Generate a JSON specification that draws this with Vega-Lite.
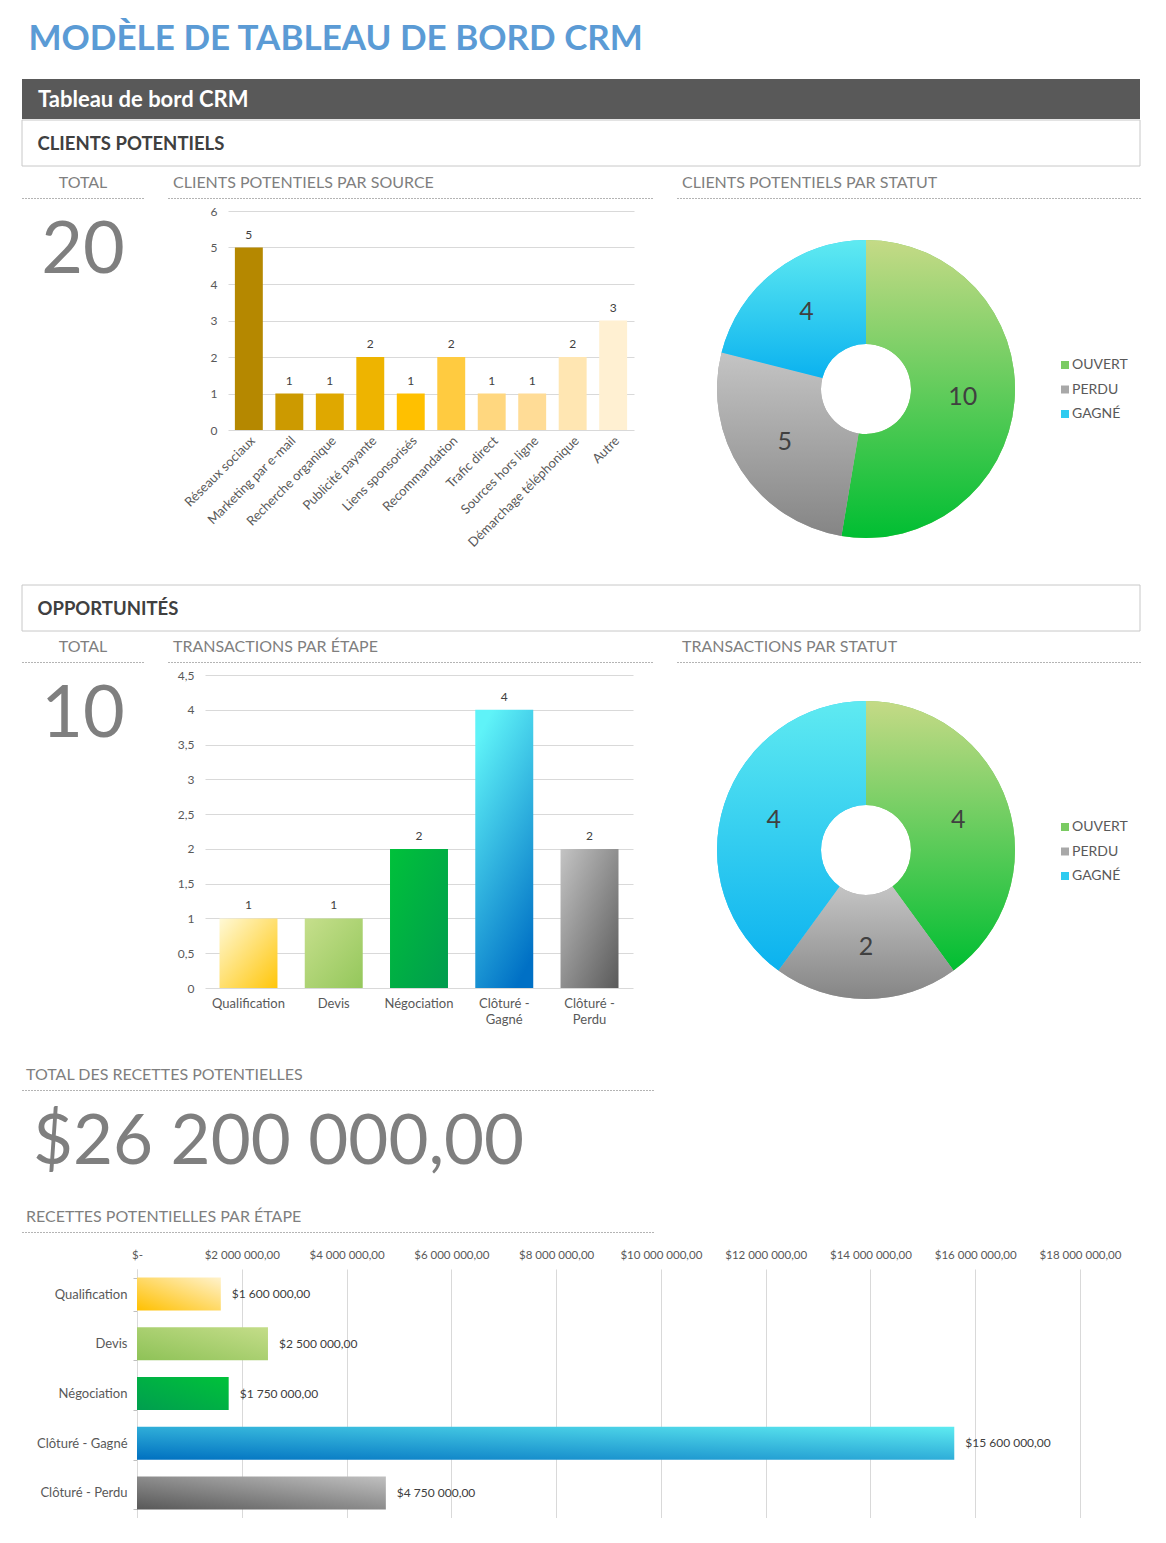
{
  "$schema": "https://vega.github.io/schema/vega-lite/v6.json",
  "background": "white",
  "padding": {"left": 21, "top": 22, "right": 0, "bottom": 0},
  "title": {"text": "MODÈLE DE TABLEAU DE BORD CRM", "anchor": "start", "dx": 7, "offset": 22, "fontSize": 35, "fontWeight": "bold", "color": "#5B9BD5", "font": "Lato"},
  "config": {
    "font": "Lato",
    "view": {"stroke": null},
    "locale": {"number": {"decimal": ",", "thousands": " ", "grouping": [3], "currency": ["$", ""]}},
    "axis": {"labelFont": "Lato", "labelColor": "#595959", "gridColor": "#d9d9d9", "domain": false, "ticks": false},
    "legend": {"labelFont": "Lato"},
    "text": {"font": "Lato"},
    "title": {"font": "Lato"}
  },
  "spacing": 0,
  "resolve": {"scale": {"color": "independent", "theta": "independent"}},
  "vconcat": [
    {
      "width": 1118, "height": 40,
      "data": {"values": [{"titre": "Tableau de bord CRM"}]},
      "mark": {"type": "rect", "fill": "#595959"},
      "encoding": {},
      "title": {"text": "Tableau de bord CRM", "anchor": "start", "dx": 16, "offset": -33, "fontSize": 22, "fontWeight": "bold", "color": "#ffffff"}
    },
    {
      "spacing": 7,
      "resolve": {"scale": {"color": "independent", "theta": "independent"}},
      "vconcat": [
        {
          "width": 1118, "height": 46,
          "data": {"values": [{"section": "CLIENTS POTENTIELS"}]},
          "mark": {"type": "rect", "fill": "#ffffff", "stroke": "#c8c8c8", "strokeWidth": 1},
          "encoding": {},
          "title": {"text": "CLIENTS POTENTIELS", "anchor": "start", "dx": 16, "offset": -34, "fontSize": 18.5, "fontWeight": "bold", "color": "#404040"}
        },
        {
          "spacing": 22,
          "resolve": {"scale": {"color": "independent", "theta": "independent"}},
          "hconcat": [
            {
              "spacing": 0,
              "vconcat": [
                {
                  "width": 122, "height": 0.01,
                  "view": {"stroke": "#9a9a9a", "strokeDash": [1, 2]},
                  "data": {"values": []},
                  "mark": "text",
                  "title": {"text": "TOTAL", "anchor": "middle", "offset": 7, "fontSize": 16, "fontWeight": "normal", "color": "#7f7f7f"}
                },
                {
                  "width": 122, "height": 104,
                  "data": {"values": [{"total_clients": 20}]},
                  "mark": {"type": "text", "fontSize": 72, "color": "#7f7f7f"},
                  "encoding": {"text": {"field": "total_clients", "type": "quantitative"}}
                }
              ]
            },
            {
              "spacing": 6,
              "vconcat": [
                {
                  "width": 485, "height": 0.01,
                  "view": {"stroke": "#9a9a9a", "strokeDash": [1, 2]},
                  "data": {"values": []},
                  "mark": "text",
                  "title": {"text": "CLIENTS POTENTIELS PAR SOURCE", "anchor": "start", "dx": 5, "offset": 7, "fontSize": 16, "fontWeight": "normal", "color": "#7f7f7f"}
                },
                {
                  "spacing": 0,
                  "hconcat": [
                    {"width": 0.01, "height": 0.01, "data": {"values": []}, "mark": "text"},
                    {
                      "width": 406, "height": 219,
                      "data": {"values": [
                        {"source": "Réseaux sociaux", "clients": 5},
                        {"source": "Marketing par e-mail", "clients": 1},
                        {"source": "Recherche organique", "clients": 1},
                        {"source": "Publicité payante", "clients": 2},
                        {"source": "Liens sponsorisés", "clients": 1},
                        {"source": "Recommandation", "clients": 2},
                        {"source": "Trafic direct", "clients": 1},
                        {"source": "Sources hors ligne", "clients": 1},
                        {"source": "Démarchage téléphonique", "clients": 2},
                        {"source": "Autre", "clients": 3}
                      ]},
                      "encoding": {
                        "x": {"field": "source", "type": "nominal", "sort": null, "scale": {"paddingInner": 0.31, "paddingOuter": 0.17},
                          "axis": {"title": null, "labelAngle": -45, "labelFontSize": 13, "labelPadding": 4, "minExtent": 154}},
                        "y": {"field": "clients", "type": "quantitative", "scale": {"domain": [0, 6], "nice": false},
                          "axis": {"title": null, "values": [0, 1, 2, 3, 4, 5, 6], "grid": true, "labelFontSize": 12, "labelPadding": 11, "minExtent": 59}}
                      },
                      "layer": [
                        {"mark": {"type": "bar"},
                         "encoding": {"color": {"field": "source", "type": "nominal", "sort": null, "legend": null,
                           "scale": {"range": ["#B58800", "#CC9A00", "#DFA800", "#EEB400", "#FFC000", "#FFCB40", "#FFD77F", "#FFDC96", "#FFE6B2", "#FFF0D2"]}}}},
                        {"mark": {"type": "text", "dy": -13, "fontSize": 12, "color": "#404040"},
                         "encoding": {"text": {"field": "clients", "type": "quantitative"}}}
                      ]
                    }
                  ]
                }
              ]
            },
            {
              "spacing": 0,
              "vconcat": [
                {
                  "width": 464, "height": 0.01,
                  "view": {"stroke": "#9a9a9a", "strokeDash": [1, 2]},
                  "data": {"values": []},
                  "mark": "text",
                  "title": {"text": "CLIENTS POTENTIELS PAR STATUT", "anchor": "start", "dx": 5, "offset": 7, "fontSize": 16, "fontWeight": "normal", "color": "#7f7f7f"}
                },
                {
                  "width": 378, "height": 380,
                  "data": {"values": [
                    {"statut": "OUVERT", "clients": 10, "rang": 1},
                    {"statut": "PERDU", "clients": 5, "rang": 2},
                    {"statut": "GAGNÉ", "clients": 4, "rang": 3}
                  ]},
                  "transform": [{"stack": "clients", "groupby": [], "sort": [{"field": "rang", "order": "ascending"}], "as": ["debut", "fin"]}],
                  "layer": [
                    {"mark": {"type": "arc", "innerRadius": 45, "outerRadius": 149},
                     "encoding": {
                       "theta": {"field": "debut", "type": "quantitative"}, "theta2": {"field": "fin"},
                       "color": {"field": "statut", "type": "nominal",
                         "scale": {"domain": ["OUVERT", "PERDU", "GAGNÉ"], "range": ["#7ACB62", "#A8A8A8", "#2ECBF0"]},
                         "legend": {"orient": "none", "legendX": 381, "legendY": 160, "title": null, "symbolType": "square", "symbolSize": 64, "symbolStrokeWidth": 0, "labelFontSize": 14, "labelColor": "#595959", "rowPadding": 10.5, "labelOffset": 0}}}},
                    {"transform": [{"filter": "datum.statut === 'OUVERT'"}],
                     "mark": {"type": "arc", "innerRadius": 45, "outerRadius": 149, "color": {"gradient": "linear", "x1": 0, "y1": 0, "x2": 0, "y2": 1, "stops": [{"offset": 0, "color": "#C5DA86"}, {"offset": 1, "color": "#00BE32"}]}},
                     "encoding": {"theta": {"field": "debut", "type": "quantitative"}, "theta2": {"field": "fin"}}},
                    {"transform": [{"filter": "datum.statut === 'PERDU'"}],
                     "mark": {"type": "arc", "innerRadius": 45, "outerRadius": 149, "color": {"gradient": "linear", "x1": 0, "y1": 0, "x2": 0, "y2": 1, "stops": [{"offset": 0, "color": "#C4C4C4"}, {"offset": 1, "color": "#858585"}]}},
                     "encoding": {"theta": {"field": "debut", "type": "quantitative"}, "theta2": {"field": "fin"}}},
                    {"transform": [{"filter": "datum.statut === 'GAGNÉ'"}],
                     "mark": {"type": "arc", "innerRadius": 45, "outerRadius": 149, "color": {"gradient": "linear", "x1": 0, "y1": 0, "x2": 0, "y2": 1, "stops": [{"offset": 0, "color": "#5FEAF1"}, {"offset": 1, "color": "#0BB2EF"}]}},
                     "encoding": {"theta": {"field": "debut", "type": "quantitative"}, "theta2": {"field": "fin"}}},
                    {"mark": {"type": "text", "radius": 97, "fontSize": 25, "color": "#404040"},
                     "encoding": {
                       "theta": {"field": "clients", "type": "quantitative", "stack": true},
                       "order": {"field": "rang", "type": "quantitative"},
                       "detail": {"field": "statut", "type": "nominal"},
                       "text": {"field": "clients", "type": "quantitative"}}}
                  ]
                }
              ]
            }
          ]
        }
      ]
    },
    {
      "spacing": 6,
      "resolve": {"scale": {"color": "independent", "theta": "independent"}},
      "vconcat": [
        {
          "width": 1118, "height": 46,
          "data": {"values": [{"section": "OPPORTUNITÉS"}]},
          "mark": {"type": "rect", "fill": "#ffffff", "stroke": "#c8c8c8", "strokeWidth": 1},
          "encoding": {},
          "title": {"text": "OPPORTUNITÉS", "anchor": "start", "dx": 16, "offset": -34, "fontSize": 18.5, "fontWeight": "bold", "color": "#404040"}
        },
        {
          "spacing": 29,
          "resolve": {"scale": {"color": "independent", "theta": "independent"}},
          "vconcat": [
            {
              "spacing": 22,
              "resolve": {"scale": {"color": "independent", "theta": "independent"}},
              "hconcat": [
                {
                  "spacing": 0,
                  "vconcat": [
                    {
                      "width": 122, "height": 0.01,
                      "view": {"stroke": "#9a9a9a", "strokeDash": [1, 2]},
                      "data": {"values": []},
                      "mark": "text",
                      "title": {"text": "TOTAL", "anchor": "middle", "offset": 7, "fontSize": 16, "fontWeight": "normal", "color": "#7f7f7f"}
                    },
                    {
                      "width": 122, "height": 104,
                      "data": {"values": [{"total_transactions": 10}]},
                      "mark": {"type": "text", "fontSize": 72, "color": "#7f7f7f"},
                      "encoding": {"text": {"field": "total_transactions", "type": "quantitative"}}
                    }
                  ]
                },
                {
                  "spacing": 6,
                  "vconcat": [
                    {
                      "width": 485, "height": 0.01,
                      "view": {"stroke": "#9a9a9a", "strokeDash": [1, 2]},
                      "data": {"values": []},
                      "mark": "text",
                      "title": {"text": "TRANSACTIONS PAR ÉTAPE", "anchor": "start", "dx": 5, "offset": 7, "fontSize": 16, "fontWeight": "normal", "color": "#7f7f7f"}
                    },
                    {
                      "spacing": 0,
                      "hconcat": [
                        {"width": 0.01, "height": 0.01, "data": {"values": []}, "mark": "text"},
                        {
                          "width": 428, "height": 313,
                          "data": {"values": [
                            {"etape": "Qualification", "transactions": 1},
                            {"etape": "Devis", "transactions": 1},
                            {"etape": "Négociation", "transactions": 2},
                            {"etape": "Clôturé - Gagné", "transactions": 4},
                            {"etape": "Clôturé - Perdu", "transactions": 2}
                          ]},
                          "encoding": {
                            "x": {"field": "etape", "type": "nominal", "sort": null,
                              "scale": {"domain": ["Qualification", "Devis", "Négociation", "Clôturé - Gagné", "Clôturé - Perdu"], "paddingInner": 0.32, "paddingOuter": 0.17},
                              "axis": {"title": null, "labelAngle": 0, "labelFontSize": 13, "labelPadding": 9, "labelLineHeight": 16,
                                "labelExpr": "indexof(datum.label, ' - ') > 0 ? [slice(datum.label, 0, indexof(datum.label, ' - ') + 2), slice(datum.label, indexof(datum.label, ' - ') + 3)] : datum.label"}},
                            "y": {"field": "transactions", "type": "quantitative", "scale": {"domain": [0, 4.5], "nice": false},
                              "axis": {"title": null, "values": [0, 0.5, 1, 1.5, 2, 2.5, 3, 3.5, 4, 4.5], "format": ".1~f", "grid": true, "labelFontSize": 12, "labelPadding": 11, "minExtent": 36}}
                          },
                          "layer": [
                            {"transform": [{"filter": "datum.etape === 'Qualification'"}],
                             "mark": {"type": "bar", "color": {"gradient": "linear", "x1": 0, "y1": 0, "x2": 1, "y2": 1, "stops": [{"offset": 0, "color": "#FFF9D6"}, {"offset": 1, "color": "#FFC60A"}]}}},
                            {"transform": [{"filter": "datum.etape === 'Devis'"}],
                             "mark": {"type": "bar", "color": {"gradient": "linear", "x1": 0, "y1": 0, "x2": 1, "y2": 1, "stops": [{"offset": 0, "color": "#C6DF8C"}, {"offset": 1, "color": "#94C75B"}]}}},
                            {"transform": [{"filter": "datum.etape === 'Négociation'"}],
                             "mark": {"type": "bar", "color": {"gradient": "linear", "x1": 0, "y1": 0, "x2": 1, "y2": 1, "stops": [{"offset": 0, "color": "#00C13A"}, {"offset": 1, "color": "#009C4E"}]}}},
                            {"transform": [{"filter": "datum.etape === 'Clôturé - Gagné'"}],
                             "mark": {"type": "bar", "color": {"gradient": "linear", "x1": 0.3, "y1": 0, "x2": 0.7, "y2": 1, "stops": [{"offset": 0, "color": "#5FF3F8"}, {"offset": 1, "color": "#0070C5"}]}}},
                            {"transform": [{"filter": "datum.etape === 'Clôturé - Perdu'"}],
                             "mark": {"type": "bar", "color": {"gradient": "linear", "x1": 0, "y1": 0, "x2": 1, "y2": 1, "stops": [{"offset": 0, "color": "#C4C4C4"}, {"offset": 1, "color": "#5A5A5A"}]}}},
                            {"mark": {"type": "text", "dy": -13, "fontSize": 12, "color": "#404040"},
                             "encoding": {"text": {"field": "transactions", "type": "quantitative"}}}
                          ]
                        }
                      ]
                    }
                  ]
                },
                {
                  "spacing": 0,
                  "vconcat": [
                    {
                      "width": 464, "height": 0.01,
                      "view": {"stroke": "#9a9a9a", "strokeDash": [1, 2]},
                      "data": {"values": []},
                      "mark": "text",
                      "title": {"text": "TRANSACTIONS PAR STATUT", "anchor": "start", "dx": 5, "offset": 7, "fontSize": 16, "fontWeight": "normal", "color": "#7f7f7f"}
                    },
                    {
                      "width": 378, "height": 374,
                      "data": {"values": [
                        {"statut": "OUVERT", "transactions": 4, "rang": 1},
                        {"statut": "PERDU", "transactions": 2, "rang": 2},
                        {"statut": "GAGNÉ", "transactions": 4, "rang": 3}
                      ]},
                      "transform": [{"stack": "transactions", "groupby": [], "sort": [{"field": "rang", "order": "ascending"}], "as": ["debut", "fin"]}],
                      "layer": [
                        {"mark": {"type": "arc", "innerRadius": 45, "outerRadius": 149},
                         "encoding": {
                           "theta": {"field": "debut", "type": "quantitative"}, "theta2": {"field": "fin"},
                           "color": {"field": "statut", "type": "nominal",
                             "scale": {"domain": ["OUVERT", "PERDU", "GAGNÉ"], "range": ["#7ACB62", "#A8A8A8", "#2ECBF0"]},
                             "legend": {"orient": "none", "legendX": 381, "legendY": 158, "title": null, "symbolType": "square", "symbolSize": 64, "symbolStrokeWidth": 0, "labelFontSize": 14, "labelColor": "#595959", "rowPadding": 10.5, "labelOffset": 0}}}},
                        {"transform": [{"filter": "datum.statut === 'OUVERT'"}],
                         "mark": {"type": "arc", "innerRadius": 45, "outerRadius": 149, "color": {"gradient": "linear", "x1": 0, "y1": 0, "x2": 0, "y2": 1, "stops": [{"offset": 0, "color": "#C5DA86"}, {"offset": 1, "color": "#00BE32"}]}},
                         "encoding": {"theta": {"field": "debut", "type": "quantitative"}, "theta2": {"field": "fin"}}},
                        {"transform": [{"filter": "datum.statut === 'PERDU'"}],
                         "mark": {"type": "arc", "innerRadius": 45, "outerRadius": 149, "color": {"gradient": "linear", "x1": 0, "y1": 0, "x2": 0, "y2": 1, "stops": [{"offset": 0, "color": "#C4C4C4"}, {"offset": 1, "color": "#858585"}]}},
                         "encoding": {"theta": {"field": "debut", "type": "quantitative"}, "theta2": {"field": "fin"}}},
                        {"transform": [{"filter": "datum.statut === 'GAGNÉ'"}],
                         "mark": {"type": "arc", "innerRadius": 45, "outerRadius": 149, "color": {"gradient": "linear", "x1": 0, "y1": 0, "x2": 0, "y2": 1, "stops": [{"offset": 0, "color": "#5FEAF1"}, {"offset": 1, "color": "#0BB2EF"}]}},
                         "encoding": {"theta": {"field": "debut", "type": "quantitative"}, "theta2": {"field": "fin"}}},
                        {"mark": {"type": "text", "radius": 97, "fontSize": 25, "color": "#404040"},
                         "encoding": {
                           "theta": {"field": "transactions", "type": "quantitative", "stack": true},
                           "order": {"field": "rang", "type": "quantitative"},
                           "detail": {"field": "statut", "type": "nominal"},
                           "text": {"field": "transactions", "type": "quantitative"}}}
                      ]
                    }
                  ]
                }
              ]
            },
            {
              "spacing": 13,
              "resolve": {"scale": {"color": "independent", "theta": "independent"}},
              "vconcat": [
                {
                  "spacing": 0,
                  "vconcat": [
                    {
                      "width": 632, "height": 0.01,
                      "view": {"stroke": "#9a9a9a", "strokeDash": [1, 2]},
                      "data": {"values": []},
                      "mark": "text",
                      "title": {"text": "TOTAL DES RECETTES POTENTIELLES", "anchor": "start", "dx": 4, "offset": 7, "fontSize": 16, "fontWeight": "normal", "color": "#7f7f7f"}
                    },
                    {
                      "width": 513, "height": 104,
                      "data": {"values": [{"recettes_totales": 26200000}]},
                      "mark": {"type": "text", "fontSize": 69, "color": "#7f7f7f"},
                      "encoding": {"text": {"field": "recettes_totales", "type": "quantitative", "format": "$,.2f"}}
                    }
                  ]
                },
                {
                  "spacing": 0,
                  "vconcat": [
                    {
                      "width": 632, "height": 0.01,
                      "view": {"stroke": "#9a9a9a", "strokeDash": [1, 2]},
                      "data": {"values": []},
                      "mark": "text",
                      "title": {"text": "RECETTES POTENTIELLES PAR ÉTAPE", "anchor": "start", "dx": 4, "offset": 7, "fontSize": 16, "fontWeight": "normal", "color": "#7f7f7f"}
                    },
                    {
                      "spacing": 0,
                      "hconcat": [
                        {"width": 0.01, "height": 0.01, "data": {"values": []}, "mark": "text"},
                        {
                          "width": 943, "height": 249,
                          "data": {"values": [
                            {"etape": "Qualification", "recettes": 1600000},
                            {"etape": "Devis", "recettes": 2500000},
                            {"etape": "Négociation", "recettes": 1750000},
                            {"etape": "Clôturé - Gagné", "recettes": 15600000},
                            {"etape": "Clôturé - Perdu", "recettes": 4750000}
                          ]},
                          "encoding": {
                            "y": {"field": "etape", "type": "nominal", "sort": null,
                              "scale": {"domain": ["Qualification", "Devis", "Négociation", "Clôturé - Gagné", "Clôturé - Perdu"], "paddingInner": 0.336, "paddingOuter": 0.173},
                              "axis": {"title": null, "ticks": true, "tickBand": "extent", "tickSize": 4, "tickColor": "#bfbfbf", "domain": true, "domainColor": "#d9d9d9", "labelPadding": 6, "labelFontSize": 13, "minExtent": 114}},
                            "x": {"field": "recettes", "type": "quantitative", "scale": {"domain": [0, 18000000], "nice": false},
                              "axis": {"orient": "top", "title": null, "values": [0, 2000000, 4000000, 6000000, 8000000, 10000000, 12000000, 14000000, 16000000, 18000000],
                                "format": "$,.2f", "labelExpr": "datum.value == 0 ? '$-' : datum.label", "labelFlush": false, "grid": true, "labelFontSize": 11.5, "labelPadding": 9, "minExtent": 36}}
                          },
                          "layer": [
                            {"transform": [{"filter": "datum.etape === 'Qualification'"}],
                             "mark": {"type": "bar", "color": {"gradient": "linear", "x1": 0, "y1": 1, "x2": 1, "y2": 0, "stops": [{"offset": 0, "color": "#FFC000"}, {"offset": 1, "color": "#FFF2CC"}]}}},
                            {"transform": [{"filter": "datum.etape === 'Devis'"}],
                             "mark": {"type": "bar", "color": {"gradient": "linear", "x1": 0, "y1": 1, "x2": 1, "y2": 0, "stops": [{"offset": 0, "color": "#8EC257"}, {"offset": 1, "color": "#C4DD89"}]}}},
                            {"transform": [{"filter": "datum.etape === 'Négociation'"}],
                             "mark": {"type": "bar", "color": {"gradient": "linear", "x1": 0, "y1": 1, "x2": 1, "y2": 0, "stops": [{"offset": 0, "color": "#009E4F"}, {"offset": 1, "color": "#00C23A"}]}}},
                            {"transform": [{"filter": "datum.etape === 'Clôturé - Gagné'"}],
                             "mark": {"type": "bar", "color": {"gradient": "linear", "x1": 0, "y1": 1, "x2": 1, "y2": 0, "stops": [{"offset": 0, "color": "#0070C0"}, {"offset": 1, "color": "#5EEBF1"}]}}},
                            {"transform": [{"filter": "datum.etape === 'Clôturé - Perdu'"}],
                             "mark": {"type": "bar", "color": {"gradient": "linear", "x1": 0, "y1": 1, "x2": 1, "y2": 0, "stops": [{"offset": 0, "color": "#585858"}, {"offset": 1, "color": "#C0C0C0"}]}}},
                            {"mark": {"type": "text", "align": "left", "dx": 11, "fontSize": 12, "color": "#404040"},
                             "encoding": {"text": {"field": "recettes", "type": "quantitative", "format": "$,.2f"}}}
                          ]
                        }
                      ]
                    }
                  ]
                }
              ]
            }
          ]
        }
      ]
    }
  ]
}
